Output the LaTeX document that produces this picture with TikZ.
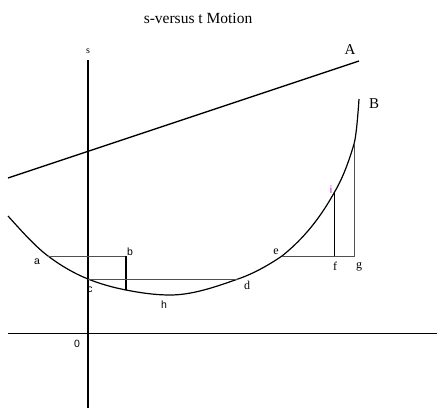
\documentclass[tikz,border=0pt]{standalone}
\usepackage{fontspec}
\setmainfont{Liberation Serif}
\newfontfamily\lsans{Liberation Sans}
\definecolor{grayline}{HTML}{505050}
\definecolor{imag}{HTML}{C010D0}
\begin{document}
\begin{tikzpicture}[x=1pt,y=-1pt,
  serlab/.style={inner sep=0pt,font=\fontsize{12}{12}\selectfont},
  sanlab/.style={inner sep=0pt,font=\lsans\fontsize{10.5}{10.5}\selectfont},
  biglab/.style={inner sep=0pt,font=\fontsize{15}{15}\selectfont},
  axisline/.style={line width=1.8pt,black},
  thinaxis/.style={line width=0.9pt,black},
  helper/.style={line width=0.9pt,grayline},
  curveline/.style={line width=1.2pt,black},
]
\useasboundingbox (0,0) rectangle (441,409);
% title
\node[inner sep=0pt,font=\fontsize{15.5}{15.5}\selectfont] (title) at (198,18) {s-versus t Motion};
% axes
\coordinate (stop) at (88,60);
\coordinate (sbot) at (88,408);
\coordinate (tl) at (8,333);
\coordinate (tr) at (437,333);
\draw[axisline] (stop) -- (sbot);
\draw[thinaxis] (tl) -- (tr);
\node[inner sep=0pt,font=\fontsize{10}{10}\selectfont] (slab) at (88,51) {s};
\node[sanlab] (zero) at (77,344) {0};
% line A
\coordinate (A1) at (8,178);
\coordinate (A2) at (359,61);
\draw[line width=1.3pt] (A1) -- (A2);
\node[biglab] (Alab) at (350,50) {A};
% curve B points
\coordinate (p0) at (8,216);
\coordinate (pa) at (48,256);
\coordinate (pc) at (88,279);
\coordinate (pb) at (126,290);
\coordinate (ph) at (170,295);
\coordinate (pd) at (238,279);
\coordinate (pe) at (282,256);
\coordinate (pi) at (334,193);
\coordinate (pg) at (354,144);
\coordinate (pB) at (359,99);
\draw[curveline] (p0)
  .. controls (21.3,230.7) and (34.7,246) .. (pa)
  .. controls (61.3,266) and (74.7,273.7) .. (pc)
  .. controls (100.7,284.1) and (113.3,287.5) .. (pb)
  .. controls (140.7,292.9) and (155.3,295) .. (ph)
  .. controls (192.7,295) and (215.3,286.9) .. (pd)
  .. controls (252.7,273.9) and (267.3,266) .. (pe)
  .. controls (299.3,242) and (316.7,224) .. (pi)
  .. controls (340.7,181.7) and (347.3,167) .. (pg)
  .. controls (355.7,138) and (357.3,124) .. (pB);
\node[biglab] (Blab) at (374,104) {B};
% helper lines
\coordinate (bt) at (126,256);
\coordinate (fb) at (334,256);
\coordinate (gb) at (354,256);
\draw[helper] (pa) -- (bt);
\draw[line width=1.4pt] (bt) -- (pb);
\draw[helper] (pc) -- (pd);
\draw[helper] (pe) -- (gb) -- (pg);
\draw[line width=0.9pt] (fb) -- (pi);
% labels
\node[sanlab] (alab) at (37,262) {a};
\node[sanlab] (blab) at (130,252) {b};
\node[sanlab] (clab) at (90,290) {c};
\node[sanlab] (hlab) at (164,305) {h};
\node[serlab] (dlab) at (247,285) {d};
\node[serlab] (elab) at (276,252) {e};
\node[serlab] (flab) at (335,266) {f};
\node[serlab] (glab) at (359,267) {g};
\node[sanlab,text=imag] (ilab) at (331,190) {i};
\end{tikzpicture}
\end{document}
